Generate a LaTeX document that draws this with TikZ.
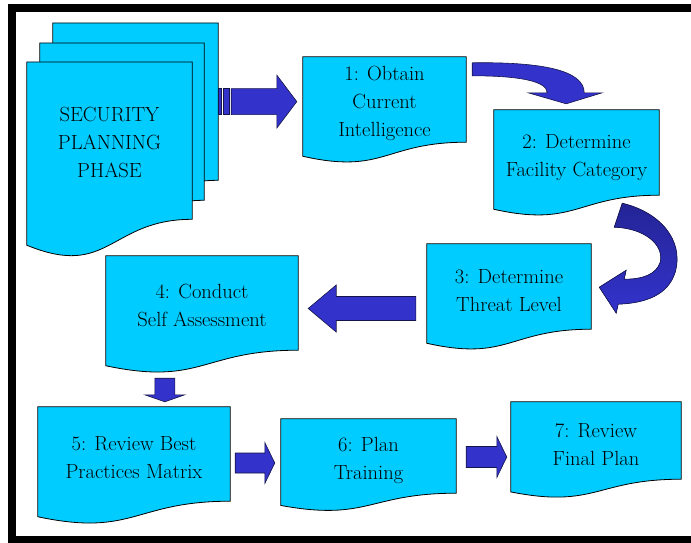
\documentclass[tikz,border=0pt]{standalone}
\usetikzlibrary{calc}
\usetikzlibrary{backgrounds}

\definecolor{docblue}{RGB}{0,204,255}
\definecolor{arrowblue}{RGB}{51,51,204}
\definecolor{arrowdark}{RGB}{36,36,150}
\definecolor{arrowline}{RGB}{20,20,70}

% strut that pushes the text a little lower in its box
\newcommand\toppad[1]{\rule{0pt}{#1}}

% document outline below a text node: flat top, wavy bottom
\newcommand\docshape[1]{%
  \path[doc_box] (#1.north west) -- (#1.north east) -- (#1.south east)
    .. controls (#1.south) and ($(#1.north)!1.381!(#1.south)$)
    .. ($(#1.north west)!1.1646!(#1.south west)$) -- cycle;}

% straight block arrow: start, tip, body half width, head half width, head length
\newcommand\blockarrow[5]{%
  \coordinate (tmpP) at ($(#2)!#5!(#1)$);
  \path[block_arrow] ($(#1)!#3!90:(#2)$) -- ($(tmpP)!#3!90:(#2)$)
    -- ($(tmpP)!#4!90:(#2)$) -- (#2) -- ($(tmpP)!#4!-90:(#2)$)
    -- ($(tmpP)!#3!-90:(#2)$) -- ($(#1)!#3!-90:(#2)$) -- cycle;}

\begin{document}
\begin{tikzpicture}[
      x=1pt, y=-1pt,
      doc_text/.style={inner sep=0pt, align=center, font=\fontsize{20.5}{28}\selectfont},
      doc_box/.style={fill=docblue, draw=black, line width=0.8pt},
      block_arrow/.style={fill=arrowblue, draw=arrowline, line width=0.6pt},
      frame_line/.style={draw=black, line width=8pt}
    ]

    \useasboundingbox (0,0) rectangle (691,542);
    \clip (0,0) rectangle (691,542);

    % ------------------------------------------------------------------ %
    % Text nodes
    % ------------------------------------------------------------------ %

    % planning phase stack
    \node[doc_text, minimum width=165, minimum height=157] (back) at (135.5,101.6) {};
    \node[doc_text, minimum width=164, minimum height=157] (mid) at (122,121.6) {};
    \node[doc_text, minimum width=165, minimum height=157] (front) at (109.5,140.6) {\toppad{18pt}SECURITY\\PLANNING\\PHASE};

    % steps
    \node[doc_text, minimum width=163, minimum height=85] (b1) at (384.5,99.5) {\toppad{23pt}1: Obtain\\Current\\Intelligence};
    \node[doc_text, minimum width=165, minimum height=85] (b2) at (576.5,152.5) {\toppad{24pt}2: Determine\\Facility Category};
    \node[doc_text, minimum width=164, minimum height=85] (b3) at (509,286.5) {\toppad{22pt}3: Determine\\Threat Level};
    \node[doc_text, minimum width=192, minimum height=94] (b4) at (202,303) {\toppad{20pt}4: Conduct\\Self Assessment};
    \node[doc_text, minimum width=192, minimum height=94] (b5) at (134,454) {\toppad{22pt}5: Review Best\\Practices Matrix};
    \node[doc_text, minimum width=175, minimum height=74] (b6) at (368.5,456) {\toppad{23pt}6: Plan\\Training};
    \node[doc_text, minimum width=170, minimum height=77] (b7) at (596,440.5) {\toppad{22pt}7: Review\\Final Plan};

    % ------------------------------------------------------------------ %
    % Document shapes
    % ------------------------------------------------------------------ %

    \begin{scope}[on background layer]
      \docshape{back}
      \docshape{mid}
      \docshape{front}
      \docshape{b1}
      \docshape{b2}
      \docshape{b3}
      \docshape{b4}
      \docshape{b5}
      \docshape{b6}
      \docshape{b7}
    \end{scope}

    % ------------------------------------------------------------------ %
    % Block arrows
    % ------------------------------------------------------------------ %

    % striped arrow phase -> 1
    \path[block_arrow] ($(back.east)+(0,-13)$) rectangle ++(3,26);
    \path[block_arrow] ($(back.east)+(5,-13)$) rectangle ++(6,26);
    \coordinate (a1s) at ($(back.east)+(13,0)$);
    \coordinate (a1e) at ($(a1s -| b1.west)+(-6,0)$);
    \blockarrow{a1s}{a1e}{13pt}{26.5pt}{20pt}

    % curved arrow 1 -> 2
    \coordinate (c12s) at ($(b1.north east)+(6,6)$);
    \begin{scope}[shift={(c12s)}]
      \path[block_arrow] (0,0) .. controls (68,-1) and (112,7) .. (112,30)
        -- (130,30) -- (94,41) -- (56,30) -- (75,30)
        .. controls (75,19) and (50,13) .. (0,13) -- cycle;
    \end{scope}

    % curved arrow 2 -> 3
    \coordinate (c23s) at ($(b2.south east)+(-37,8)$);
    \begin{scope}[shift={(c23s)}]
      \path[block_arrow, top color=arrowdark, bottom color=arrowblue]
        (0,0) .. controls (38,9) and (62,37) .. (53,69)
        .. controls (46,92) and (23,100) .. (-4,101)
        -- (-6,110) -- (-23,84) -- (4,67) -- (2,76)
        .. controls (21,76) and (34,71) .. (38,59)
        .. controls (42,42) and (23,25) .. (-8,24) -- cycle;
    \end{scope}

    % arrow 3 -> 4
    \coordinate (a3s) at ($(b3.west)+(-11,22)$);
    \coordinate (a3e) at ($(a3s -| b4.east)+(10,0)$);
    \blockarrow{a3s}{a3e}{12pt}{23.5pt}{28pt}

    % arrow 4 -> 5
    \coordinate (a4s) at ($(b4.south west)+(59,28)$);
    \coordinate (a4e) at ($(a4s |- b5.north)+(0,-5)$);
    \blockarrow{a4s}{a4e}{10pt}{20pt}{7pt}

    % arrow 5 -> 6
    \coordinate (a5s) at ($(b5.east)+(5,9)$);
    \coordinate (a5e) at ($(a5s -| b6.west)+(-6,0)$);
    \blockarrow{a5s}{a5e}{10pt}{20.5pt}{10pt}

    % arrow 6 -> 7
    \coordinate (a6s) at ($(b6.east)+(10,1)$);
    \coordinate (a6e) at ($(a6s -| b7.west)+(-4,0)$);
    \blockarrow{a6s}{a6e}{10.5pt}{20.5pt}{10pt}

    % ------------------------------------------------------------------ %
    % Frame
    % ------------------------------------------------------------------ %
    \draw[frame_line] (12,8) rectangle (700,540);

    \end{tikzpicture}
\end{document}
